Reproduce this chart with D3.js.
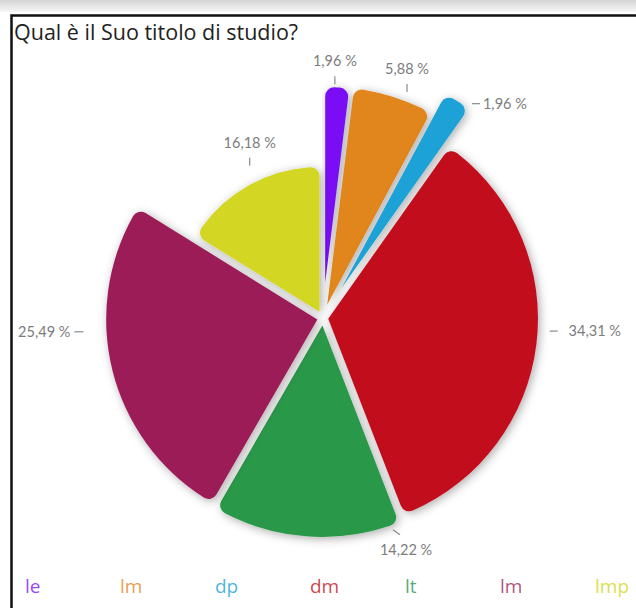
<!DOCTYPE html>
<html>
<head>
<meta charset="utf-8">
<script src="https://cdn.jsdelivr.net/npm/d3@7"></script>
<style>
  html, body { margin: 0; padding: 0; background: #fff; }
  svg { display: block; }
</style>
</head>
<body>
<svg id="chart" width="636" height="608"></svg>
<script>
// Survey answers: "Qual è il Suo titolo di studio?"
const categories = ["le", "lm", "dp", "dm", "lt", "lm", "lmp"];
const percentages = [1.96, 5.88, 1.96, 34.31, 14.22, 25.49, 16.18];
const sliceColors = ["#7a10f6", "#e0861c", "#1ba2d6", "#c20f1c", "#2a984a", "#9c1f59", "#d3d620"];

// Radial reach of each slice (px from the pie centre) and label placement.
const sliceReach = [231, 232, 255, 215, 219, 217, 152];
const labelLayout = [
  { deg: 2.9,   r: 234, tick: "up" },
  { deg: 20.4,  r: 241, tick: "up" },
  { deg: 34.8,  r: 261, tick: "right", pad: 11 },
  { deg: 93.3,  r: 227, tick: "right", pad: 19 },
  { deg: 161.7, r: 223, tick: "diag" },
  { deg: 266.7, r: 240, tick: "left" },
  { deg: 334.3, r: 169, tick: "up" }
];

const width = 636, height = 608;
const cx = 323, cy = 318;
const gap = 4, pull = 3;

const itFormat = d3.formatLocale({ decimal: ",", thousands: ".", grouping: [3], currency: ["", " €"] }).format(".2f");

const rows = categories.map((c, i) => ({ i, category: c, value: percentages[i], color: sliceColors[i], reach: sliceReach[i] }));

const svg = d3.select("#chart");
const defs = svg.append("defs");

// soft shadow under the slices
const shadow = defs.append("filter").attr("id", "sliceShadow")
  .attr("x", "-20%").attr("y", "-20%").attr("width", "140%").attr("height", "140%");
shadow.append("feGaussianBlur").attr("in", "SourceAlpha").attr("stdDeviation", 5).attr("result", "blur");
shadow.append("feOffset").attr("in", "blur").attr("dx", 2).attr("dy", 2).attr("result", "off");
shadow.append("feFlood").attr("flood-color", "#000").attr("flood-opacity", 0.33).attr("result", "col");
shadow.append("feComposite").attr("in", "col").attr("in2", "off").attr("operator", "in").attr("result", "sh");
const merge = shadow.append("feMerge");
merge.append("feMergeNode").attr("in", "sh");
merge.append("feMergeNode").attr("in", "SourceGraphic");

// top band gradient
const band = defs.append("linearGradient").attr("id", "topBand").attr("x1", 0).attr("y1", 0).attr("x2", 0).attr("y2", 1);
band.append("stop").attr("offset", "0%").attr("stop-color", "#d4d4d4");
band.append("stop").attr("offset", "100%").attr("stop-color", "#f7f7f7");

svg.append("rect").attr("x", 0).attr("y", 0).attr("width", width).attr("height", 12).attr("fill", "url(#topBand)");

// panel frame
svg.append("path")
  .attr("d", `M11.5,${height} V15.5 H${width}`)
  .attr("fill", "none").attr("stroke", "#111").attr("stroke-width", 2.5);

svg.append("text")
  .attr("x", 14).attr("y", 40)
  .attr("font-family", "'Open Sans', sans-serif")
  .attr("font-size", 21.5)
  .attr("fill", "#222")
  .text("Qual è il Suo titolo di studio?");

const pie = d3.pie().sort(null).value(d => d.value).startAngle(0).endAngle(2 * Math.PI);
const arcs = pie(rows);
arcs.forEach(a => {
  const half = (a.endAngle - a.startAngle) / 2;
  a.mid = (a.startAngle + a.endAngle) / 2;
  a.shift = (gap / 2) / Math.sin(half) + pull;
  a.outer = a.data.reach - a.shift;
});

const arcGen = d3.arc().innerRadius(0).outerRadius(d => d.outer).cornerRadius(9);

const pieG = svg.append("g").attr("transform", `translate(${cx},${cy})`);
pieG.selectAll("path.slice")
  .data(arcs)
  .join("path")
  .attr("class", "slice")
  .attr("transform", d => `translate(${d.shift * Math.sin(d.mid)},${-d.shift * Math.cos(d.mid)})`)
  .attr("d", arcGen)
  .attr("fill", d => d.data.color)
  .attr("filter", "url(#sliceShadow)");

// value labels with small leader ticks
const labelG = svg.append("g")
  .attr("font-family", "Lato, 'Open Sans', sans-serif")
  .attr("font-size", 14.5)
  .attr("fill", "#7c7c7c");

arcs.forEach((a, i) => {
  const L = labelLayout[i];
  const ang = L.deg * Math.PI / 180;
  const x = cx + L.r * Math.sin(ang), y = cy - L.r * Math.cos(ang);
  const txt = itFormat(a.data.value) + " %";
  const g = labelG.append("g");
  let line, tx, ty, anchor;
  if (L.tick === "up") {
    line = [x, y, x, y - 8]; tx = x; ty = y - 18; anchor = "middle";
  } else if (L.tick === "right") {
    line = [x, y, x + 8, y]; tx = x + L.pad; ty = y + 5; anchor = "start";
  } else if (L.tick === "left") {
    line = [x - 9, y, x, y]; tx = x - 13; ty = y + 5; anchor = "end";
  } else {
    line = [x, y, x + 7, y + 5]; tx = x + 13; ty = y + 25; anchor = "middle";
  }
  g.append("line")
    .attr("x1", line[0]).attr("y1", line[1]).attr("x2", line[2]).attr("y2", line[3])
    .attr("stroke", "#8a8a8a").attr("stroke-width", 1.2);
  g.append("text").attr("x", tx).attr("y", ty).attr("text-anchor", anchor).text(txt);
});

// legend row
const legendX = d3.scalePoint().domain(d3.range(categories.length)).range([25, 595]);
svg.append("g")
  .attr("font-family", "'Open Sans', sans-serif")
  .attr("font-size", 19)
  .attr("font-weight", 400)
  .selectAll("text")
  .data(rows)
  .join("text")
  .attr("x", d => legendX(d.i))
  .attr("y", 593)
  .attr("fill", d => d.color)
  .attr("fill-opacity", 0.8)
  .text(d => d.category);
</script>
</body>
</html>
